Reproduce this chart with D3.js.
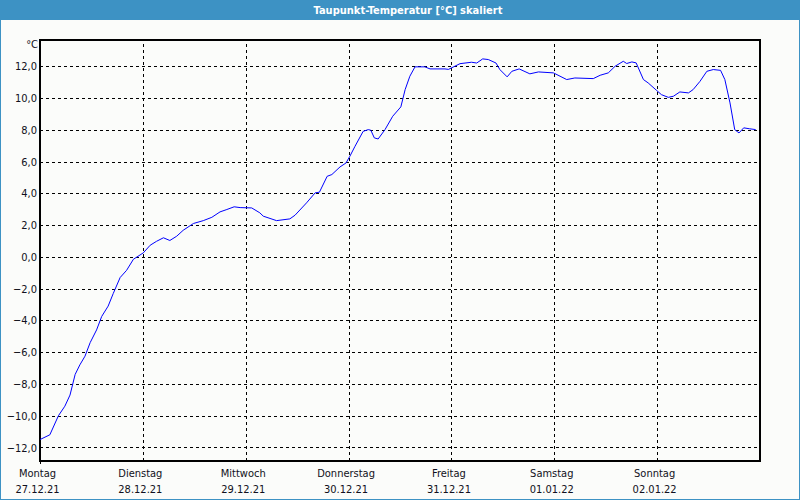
<!DOCTYPE html>
<html><head><meta charset="utf-8">
<script src="https://cdn.jsdelivr.net/npm/d3@7"></script>
<style>
html,body{margin:0;padding:0;background:#fbfcfa;}
svg{display:block;}
svg text{font-family:"DejaVu Sans Condensed","DejaVu Sans",sans-serif;font-stretch:condensed;}
</style></head>
<body><svg id="c" width="800" height="500"></svg>
<script>
const title = "Taupunkt-Temperatur [°C] skaliert";
const unit = "°C";
const dayNames = ["Montag","Dienstag","Mittwoch","Donnerstag","Freitag","Samstag","Sonntag"];
const dayDates = ["27.12.21","28.12.21","29.12.21","30.12.21","31.12.21","01.01.22","02.01.22"];
const yTicks = [-12,-10,-8,-6,-4,-2,0,2,4,6,8,10,12];
// hours since Monday 00:00
const hours = [0,2.3,4.3,5.8,7.0,8.2,9.3,10.5,11.7,13.2,14.4,15.9,17.1,18.7,20.2,21.8,24.1,25.7,27.2,28.8,30.3,31.9,33.4,35.8,38.1,40.1,42.0,43.6,45.3,46.7,49.4,51.3,52.1,55.2,58.3,59.5,62.2,64.2,65.2,67.0,68.1,70.0,71.4,72.3,73.5,75.4,76.6,77.2,78.0,78.9,80.5,82.3,84.2,85.2,86.3,87.5,89.8,91.0,94.5,95.3,98.0,100.7,101.9,103.3,104.6,106.4,107.3,109.0,110.1,111.8,114.3,116.3,119.8,122.9,124.8,129.1,130.7,132.6,134.2,136.1,136.9,138.1,139.1,140.8,141.9,143.9,145.0,146.6,147.8,149.3,151.3,152.4,154.0,155.6,157.1,158.8,159.8,161.0,162.1,163.1,164.2,165.6,167.0];
const dewpoint = [-11.5,-11.2,-10.0,-9.4,-8.7,-7.4,-6.8,-6.25,-5.4,-4.6,-3.75,-3.1,-2.3,-1.3,-0.85,-0.15,0.25,0.73,0.98,1.2,1.03,1.3,1.67,2.1,2.28,2.49,2.83,2.98,3.15,3.1,3.08,2.77,2.56,2.28,2.39,2.62,3.4,4.03,4.07,5.07,5.18,5.66,5.91,6.33,6.96,7.9,8.01,7.97,7.49,7.42,8.01,8.85,9.44,10.53,11.37,11.96,11.96,11.83,11.83,11.8,12.16,12.25,12.2,12.46,12.42,12.2,11.79,11.33,11.68,11.83,11.52,11.64,11.58,11.16,11.26,11.22,11.43,11.58,12.0,12.31,12.17,12.27,12.21,11.16,10.95,10.47,10.21,10.04,10.11,10.38,10.32,10.53,11.05,11.68,11.79,11.74,11.16,9.69,8.01,7.8,8.12,8.06,8.01];

const svg = d3.select("#c");
const W = 800, H = 500;
const L = 40, R = 760, T = 40, B = 461;

// window frame
svg.append("rect").attr("x",0).attr("y",0).attr("width",W).attr("height",H).attr("fill","#fbfcfa");
svg.append("rect").attr("x",0.5).attr("y",0.5).attr("width",W-1).attr("height",H-1)
  .attr("fill","none").attr("stroke","#3d92c4").attr("stroke-width",1);
svg.append("rect").attr("x",0).attr("y",0).attr("width",W).attr("height",20).attr("fill","#3d92c4");
svg.append("text").attr("x",408).attr("y",14).attr("text-anchor","middle")
  .attr("fill","#fff").attr("font-weight","bold").attr("font-size","11px").text(title);

const x = d3.scaleLinear().domain([0,168]).range([L,R]);
const y = d3.scaleLinear().domain([-12.85,13.65]).range([B,T]);

// horizontal grid
const gy = svg.append("g").attr("transform",`translate(${L},0)`)
  .call(d3.axisLeft(y).tickValues(yTicks).tickSize(-(R-L)).tickPadding(4)
    .tickFormat(d => d3.format(".1f")(d).replace(".",",")));
gy.select(".domain").remove();
gy.attr("font-family",null).attr("font-size",null);
gy.selectAll(".tick line").attr("stroke","#000").attr("stroke-dasharray","3,3").attr("shape-rendering","crispEdges");
gy.selectAll(".tick text").attr("font-size","11px").attr("fill","#101020").attr("x",-3);

// vertical grid + day labels
const dayTicks = d3.range(1,7).map(d => d*24);
const gx = svg.append("g").attr("transform",`translate(0,${B})`)
  .call(d3.axisBottom(x).tickValues(dayTicks).tickSize(-(B-T)).tickFormat(""));
gx.select(".domain").remove();
gx.selectAll(".tick line").attr("stroke","#000").attr("stroke-dasharray","3,3").attr("shape-rendering","crispEdges");

const labs = svg.append("g").attr("font-size","11px").attr("fill","#101020").attr("text-anchor","middle");
dayNames.forEach((n,i) => {
  labs.append("text").attr("x",x(i*24)-2.5).attr("y",477).text(n);
  labs.append("text").attr("x",x(i*24)-2.5).attr("y",493).text(dayDates[i]);
});

// plot frame
svg.append("rect").attr("x",L).attr("y",T).attr("width",R-L).attr("height",B-T)
  .attr("fill","none").attr("stroke","#000").attr("stroke-width",1.2).attr("shape-rendering","crispEdges");
svg.append("line").attr("x1",L).attr("x2",L).attr("y1",B).attr("y2",B+3).attr("stroke","#000").attr("shape-rendering","crispEdges");

svg.append("text").attr("x",38).attr("y",48).attr("text-anchor","end").attr("font-size","11px")
  .attr("fill","#101020").text(unit);

// line
const pts = hours.map((h,i) => [h, dewpoint[i]]);
svg.append("path").datum(pts)
  .attr("fill","none").attr("stroke","#0000ff").attr("stroke-width",1)
  .attr("d", d3.line().x(d => x(d[0])).y(d => y(d[1])));
</script></body></html>
